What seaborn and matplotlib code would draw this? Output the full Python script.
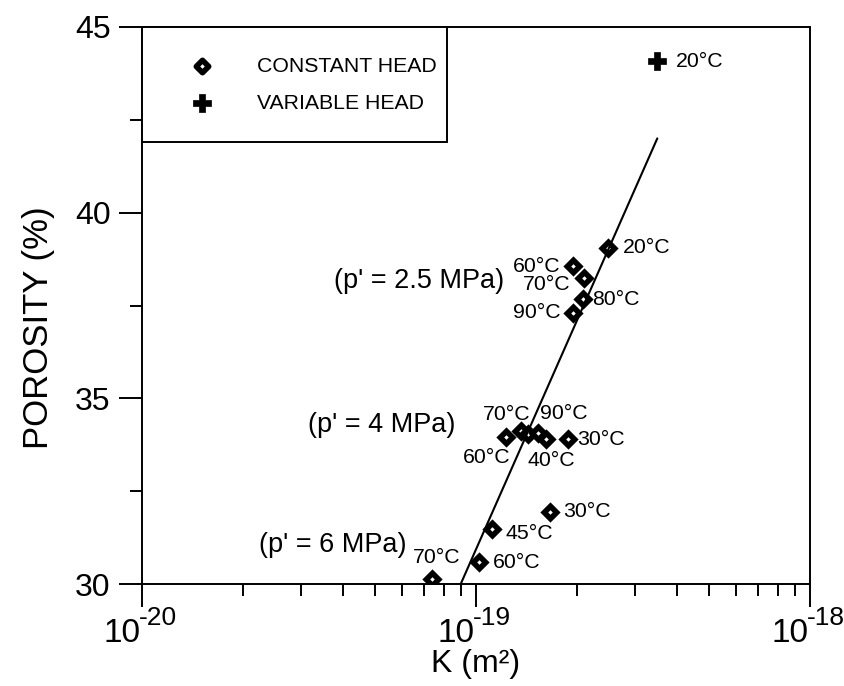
import matplotlib
matplotlib.use("Agg")
import matplotlib.pyplot as plt
import matplotlib.ticker as mticker
import matplotlib.transforms as mtransforms
from matplotlib.patches import Rectangle
import numpy as np
import pandas as pd
import seaborn as sns

# Permeability (m^2) and porosity (%) of constant-head tests, with test temperature
const_k = [2.48e-19, 1.95e-19, 2.10e-19, 2.09e-19, 1.95e-19,
           1.23e-19, 1.36e-19, 1.43e-19, 1.53e-19, 1.62e-19, 1.88e-19,
           1.67e-19, 1.12e-19, 1.02e-19, 7.37e-20]
const_por = [39.05, 38.56, 38.24, 37.67, 37.30,
             33.96, 34.12, 34.04, 34.07, 33.90, 33.90,
             31.94, 31.48, 30.59, 30.13]
const_temp = ["20°C", "60°C", "70°C", "80°C", "90°C",
              "60°C", "70°C", "", "90°C", "40°C", "30°C",
              "30°C", "45°C", "60°C", "70°C"]

# Variable-head test
var_k = [3.49e-19]
var_por = [44.08]
var_temp = ["20°C"]

# Fitted trend line (end points)
fit_k = [9.0e-20, 3.49e-19]
fit_por = [30.0, 42.0]

# Effective-stress group labels
stress_labels = ["(p' = 2.5 MPa)", "(p' = 4 MPa)", "(p' = 6 MPa)"]

# x-axis decades
x_decades = [-20, -19, -18]

# Label placement: offsets in pixels and horizontal alignment
const_offsets = [(15, 0, "left"), (-12, 0, "right"), (-13, -6, "right"), (9, 0, "left"), (-12, 0, "right"),
                 (-19, -21, "center"), (-14, 17, "center"), (0, 0, "center"), (26, 19, "center"),
                 (5, -21, "center"), (10, 0, "left"),
                 (13, 0, "left"), (13, -4, "left"), (14, 0, "left"), (5, 22, "center")]
var_offsets = [(19, 0, "left")]
stress_pos = [(1.21e-19, 38.16), (8.65e-20, 34.28), (6.2e-20, 31.05)]

sns.set_style("white")
plt.rcParams["font.family"] = ["Liberation Sans", "DejaVu Sans"]
for key in ["text.color", "axes.labelcolor", "xtick.color", "ytick.color", "axes.edgecolor"]:
    plt.rcParams[key] = "black"

fig = plt.figure(figsize=(8.44, 6.86), dpi=100)
ax = fig.add_axes([142 / 844, 1 - 584 / 686, (810 - 142) / 844, (584 - 27) / 686])

const_df = pd.DataFrame({"k": const_k, "por": const_por})
var_df = pd.DataFrame({"k": var_k, "por": var_por})
fit_df = pd.DataFrame({"k": fit_k, "por": fit_por})

sns.lineplot(data=fit_df, x="k", y="por", sort=False, color="black", linewidth=1.5,
             ax=ax, zorder=4, legend=False)
sns.scatterplot(data=const_df, x="k", y="por", marker="D", s=40, color="white",
                edgecolor="black", linewidth=4.0, ax=ax, zorder=3, label="CONSTANT HEAD")
sns.scatterplot(data=var_df, x="k", y="por", marker="P", s=150, color="black",
                edgecolor="black", linewidth=0.5, ax=ax, zorder=3, label="VARIABLE HEAD")
for coll in ax.collections:
    coll.set_joinstyle("miter")

for k, p, t, (dx, dy, ha) in zip(const_k, const_por, const_temp, const_offsets):
    if t:
        ax.annotate(t, (k, p), xytext=(dx, dy), textcoords="offset pixels",
                    ha=ha, va="center", fontsize=15.3, zorder=5)
for k, p, t, (dx, dy, ha) in zip(var_k, var_por, var_temp, var_offsets):
    ax.annotate(t, (k, p), xytext=(dx, dy), textcoords="offset pixels",
                ha=ha, va="center", fontsize=15.3, zorder=5)
for lab, (x, y) in zip(stress_labels, stress_pos):
    ax.text(x, y, lab, ha="right", va="center", fontsize=19.5)

ax.set_xscale("log")
ax.set_xlim(1e-20, 1e-18)
ax.set_ylim(30, 45)
ax.set_xticks([10.0 ** d for d in x_decades])
ax.xaxis.set_minor_locator(mticker.LogLocator(base=10, subs=np.arange(2, 10), numticks=20))
ax.xaxis.set_minor_formatter(mticker.NullFormatter())
ax.xaxis.set_major_formatter(mticker.NullFormatter())
ax.yaxis.set_major_locator(mticker.MultipleLocator(5))
ax.yaxis.set_minor_locator(mticker.MultipleLocator(2.5))

# Decade labels: "10" with a large raised exponent
trans = mtransforms.blended_transform_factory(ax.transData, ax.transAxes)
for d in x_decades:
    ax.annotate("10", (10.0 ** d, 0), xycoords=trans, xytext=(-2, -58),
                textcoords="offset pixels", ha="right", va="baseline", fontsize=24)
    ax.annotate("-%d" % abs(d), (10.0 ** d, 0), xycoords=trans, xytext=(-3, -41),
                textcoords="offset pixels", ha="left", va="baseline", fontsize=19)

ax.tick_params(axis="both", which="major", direction="out", length=16.5, width=1.4,
               colors="black", top=False, right=False, bottom=True, left=True)
ax.tick_params(axis="y", which="major", labelsize=23, pad=6)
ax.tick_params(axis="both", which="minor", direction="out", length=8.5, width=1.4,
               top=False, right=False, bottom=True, left=True)

for sp in ax.spines.values():
    sp.set_visible(True)
    sp.set_color("black")
    sp.set_linewidth(1.4)

ax.set_xlabel("K (m²)", fontsize=23, va="top")
ax.xaxis.set_label_coords(0.5, (584 - 649) / 557)
ax.set_ylabel("POROSITY (%)", fontsize=25)
ax.yaxis.set_label_coords(-0.130, 0.461)

# Legend box anchored in the upper-left corner of the axes
ax.add_patch(Rectangle((0, (584 - 142) / 557), (447 - 142) / 668, 1 - (584 - 142) / 557,
                       transform=ax.transAxes, facecolor="white", edgecolor="black",
                       linewidth=1.4, zorder=6, clip_on=False))
leg = ax.legend(loc="upper left", bbox_to_anchor=(0, 1), borderaxespad=0, frameon=False,
                fontsize=15.3, borderpad=1.4, labelspacing=0.86, handlelength=2.85,
                handletextpad=1.16)
leg.set_zorder(7)

fig.savefig("out.png", dpi=100)
